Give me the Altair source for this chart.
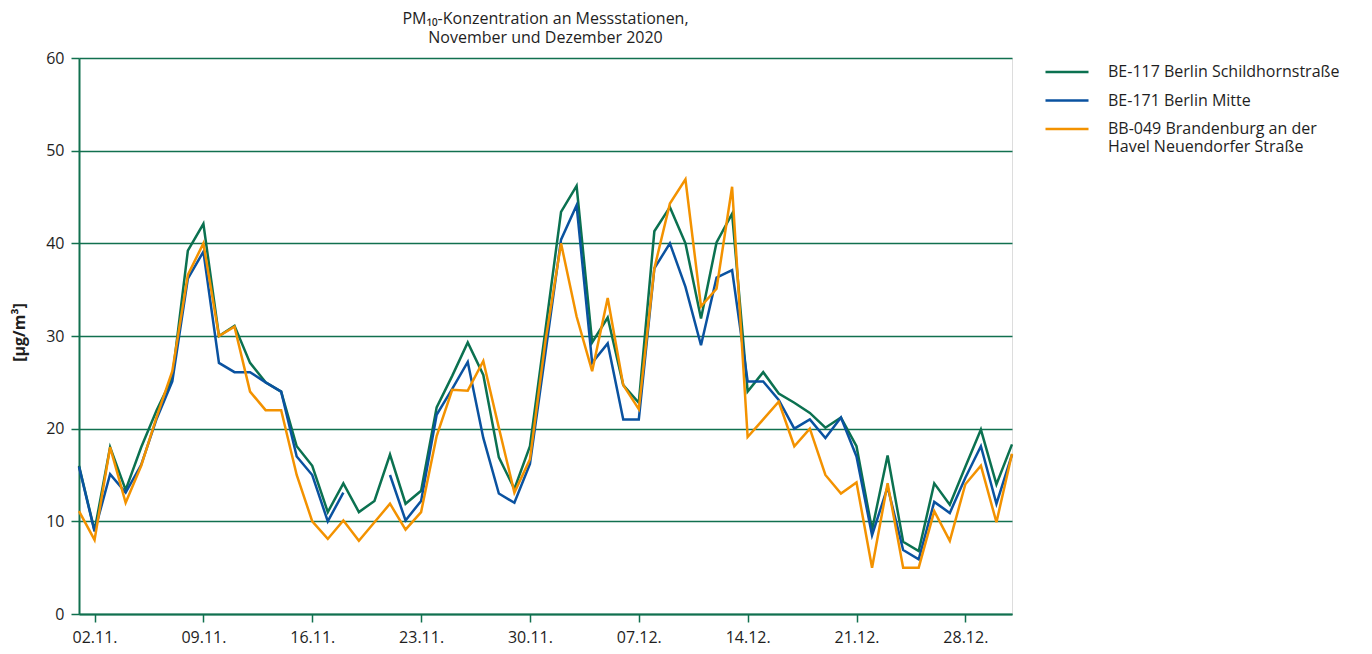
import altair as alt
import pandas as pd

series_names = [
    "BE-117 Berlin Schildhornstraße",
    "BE-171 Berlin Mitte",
    "BB-049 Brandenburg an der Havel Neuendorfer Straße",
]
series_colors = ["#0b7150", "#0a52a0", "#f39200"]
legend_lines = [
    ["BE-117 Berlin Schildhornstraße"],
    ["BE-171 Berlin Mitte"],
    ["BB-049 Brandenburg an der", "\u00a0", "Havel Neuendorfer Straße"],
]

# day index 0 = 01.11.2020 ... 60 = 31.12.2020
days = list(range(61))

be117 = [16, 9, 18, 13.4, 18, 22, 25.5, 39.2, 42.1, 30,
         31.1, 27.1, 25, 24, 18.1, 16, 11, 14.1, 11, 12.2,
         17.2, 11.9, 13.3, 22.3, 25.7, 29.3, 25.8, 16.9, 13.5, 18.1,
         30.7, 43.4, 46.2, 29.3, 32, 24.7, 22.8, 41.3, 43.9, 40,
         31.9, 40.1, 43.2, 24, 26.1, 23.8, 22.8, 21.7, 20.1, 21.2,
         18.1, 9.1, 17.1, 7.8, 6.8, 14.1, 11.8, 15.9, 19.9, 14, 18.3]
be171 = [15.9, 8.9, 15.1, 13.1, 16.1, 21.1, 25.1, 36.2, 39.1, 27.1,
         26.1, 26.1, 25, 24, 17, 15, 10, 13.1, None, None,
         15, 10.1, 12.2, 21.5, 24.3, 27.2, 19, 13, 12, 16.2,
         28.2, 40.4, 44.1, 27.1, 29.2, 21, 21, 37.3, 40, 35.3,
         29, 36.3, 37.1, 25.1, 25.1, 23.1, 20, 21, 19, 21.2,
         17, 8.5, 13.7, 6.9, 5.9, 12.1, 10.9, 14.7, 18.1, 11.9, 17.2]
bb049 = [11.1, 8, 18, 12, 16, 21.3, 26.2, 36.6, 40, 30,
         31, 24, 22, 22, 15, 10, 8.1, 10.1, 7.9, 9.9,
         11.9, 9.1, 11, 19.2, 24.2, 24.1, 27.3, 20.1, 13.1, 16.7,
         29.5, 40, 32.1, 26.2, 34.1, 24.7, 22.1, 37.3, 44.3, 46.9,
         33.2, 35.1, 46.1, 19.1, 21, 22.9, 18.1, 20, 15, 13,
         14.2, 5, 14.1, 5, 5, 11.1, 7.9, 14, 16, 9.9, 17.3]

tick_days = [1, 8, 15, 22, 29, 36, 43, 50, 57]
tick_labels = ["02.11.", "09.11.", "16.11.", "23.11.", "30.11.",
               "07.12.", "14.12.", "21.12.", "28.12."]
y_ticks = [0, 10, 20, 30, 40, 50, 60]

rows = []
for name, vals in zip(series_names, [be117, be171, bb049]):
    for d, v in zip(days, vals):
        rows.append({"day": d, "value": v, "station": name})
df = pd.DataFrame(rows)

x_label_expr = "[" + ",".join("'%s'" % t for t in tick_labels) + "][indexof([" + \
    ",".join(str(t) for t in tick_days) + "], datum.value)]"

legend_expr = "datum.label"
for name, lines in zip(series_names, legend_lines):
    if len(lines) > 1:
        arr = "[" + ",".join("'%s'" % l for l in lines) + "]"
        legend_expr = "datum.label == '%s' ? %s : %s" % (name, arr, legend_expr)

FONT = "Open Sans"
GREEN = "#11704f"
TEXT = "#1e1e1e"

chart = alt.Chart(df).mark_line(
    strokeWidth=2.5, invalid="break-paths-show-domains"
).encode(
    x=alt.X(
        "day:Q",
        scale=alt.Scale(domain=[0, 60], nice=False, zero=False),
        axis=alt.Axis(
            values=tick_days, labelExpr=x_label_expr, title=None, grid=False,
            tickSize=8, tickColor=GREEN, tickWidth=1.5, domainColor=GREEN,
            domainWidth=2, labelFont=FONT, labelFontSize=16, labelColor=TEXT,
            labelPadding=7, labelFlush=False,
        ),
    ),
    y=alt.Y(
        "value:Q",
        scale=alt.Scale(domain=[0, 60], nice=False),
        axis=alt.Axis(
            values=y_ticks, title="[µg/m³]", grid=True, gridColor=GREEN,
            gridWidth=1.5, tickSize=8, tickColor=GREEN, tickWidth=1.5,
            domainColor=GREEN, domainWidth=2, labelFont=FONT, labelFontSize=16,
            labelColor=TEXT, labelPadding=7, titleFont=FONT, titleFontSize=16,
            titleFontWeight="bold", titleColor=TEXT, titleX=-60, titleY=274,
            titleAlign="center", titleBaseline="middle",
        ),
    ),
    color=alt.Color(
        "station:N",
        scale=alt.Scale(domain=series_names, range=series_colors),
        legend=alt.Legend(
            title=None, orient="none", legendX=980, legendY=6,
            symbolType="M-5,0H5", symbolSize=74, symbolStrokeWidth=2.5,
            labelFont=FONT, labelFontSize=16, labelColor=TEXT,
            labelOffset=33, rowPadding=12.5, labelExpr=legend_expr,
            labelLimit=400, labelBaseline="middle", gridAlign="none",
        ),
    ),
).properties(
    width=933,
    height=556,
    autosize=alt.AutoSizeParams(type="none"),
    padding={"left": 71, "top": 50, "right": 350, "bottom": 32},
    title=alt.TitleParams(
        text=["PM₁₀-Konzentration an Messstationen,", "November und Dezember 2020"],
        font=FONT, fontSize=16, fontWeight="normal", color=TEXT,
        anchor="middle", offset=4, lineHeight=19,
    ),
).configure_view(
    fill="#e7f0ec", stroke=GREEN, strokeWidth=1.5
).configure(background="white")

chart.save("out.html", embed_options={"renderer": "svg", "actions": False})
